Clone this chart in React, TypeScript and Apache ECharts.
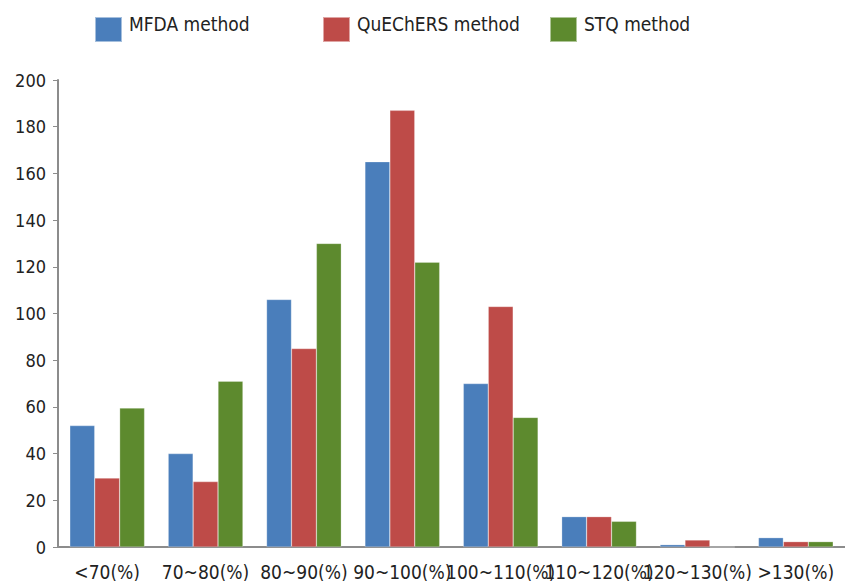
import React, { useEffect, useRef } from "react";
import * as echarts from "echarts";

const categories = ["<70(%)", "70~80(%)", "80~90(%)", "90~100(%)", "100~110(%)", "110~120(%)", "120~130(%)", ">130(%)"];
const mfda = [52, 40, 106, 165, 70, 13, 1, 4];
const quechers = [29.5, 28, 85, 187, 103, 13, 3, 2.3];
const stq = [59.5, 71, 130, 122, 55.5, 11, 0, 2.3];
const seriesNames = ["MFDA method", "QuEChERS method", "STQ method"];
const colors = ["#4a7ebb", "#be4b48", "#5d8a2e"];
const yTicks = { min: 0, max: 200, interval: 20 };

const FONT = "'DejaVu Sans Condensed', 'DejaVu Sans', sans-serif";
// square icon drawn in the lower part of the item box so the label sits higher
const LEGEND_ICON = "path://M0,0M0,11L27,11L27,36L0,36Z";

export default function App() {
  const ref = useRef<HTMLDivElement>(null);
  useEffect(() => {
    if (!ref.current) return;
    const chart = echarts.init(ref.current, undefined, { renderer: "svg" });
    const dataSets = [mfda, quechers, stq];
    const legendLefts = [94, 322, 549];
    chart.setOption({
      animation: false,
      textStyle: { fontFamily: FONT },
      legend: seriesNames.map((n, i) => ({
        data: [n],
        left: legendLefts[i],
        top: 5,
        padding: 0,
        itemWidth: 27,
        itemHeight: 36,
        itemGap: 0,
        icon: LEGEND_ICON,
        textStyle: { fontFamily: FONT, fontSize: 19, color: "#222", padding: [0, 0, 0, 2] },
      })),
      grid: { left: 58, right: 0, top: 80, bottom: 33 },
      xAxis: {
        type: "category",
        data: categories,
        axisLine: { lineStyle: { color: "#8c8c8c", width: 2 } },
        axisTick: { show: false },
        axisLabel: { interval: 0, color: "#222", fontSize: 19, fontFamily: FONT, margin: 15 },
      },
      yAxis: {
        type: "value",
        min: yTicks.min,
        max: yTicks.max,
        interval: yTicks.interval,
        splitLine: { show: false },
        axisLine: { show: true, lineStyle: { color: "#8c8c8c", width: 2 } },
        axisTick: { show: true, length: 5, lineStyle: { color: "#8c8c8c" } },
        axisLabel: { color: "#222", fontSize: 18, fontFamily: FONT, margin: 12 },
      },
      series: seriesNames.map((n, i) => ({
        name: n,
        type: "bar",
        data: dataSets[i],
        barGap: "0%",
        barCategoryGap: "24%",
        itemStyle: { color: colors[i], borderColor: "rgba(255,255,255,0.5)", borderWidth: 0.5 },
      })),
    });
    return () => chart.dispose();
  }, []);
  return <div ref={ref} style={{ width: 845, height: 581, position: "absolute", left: 0, top: 0 }} />;
}
